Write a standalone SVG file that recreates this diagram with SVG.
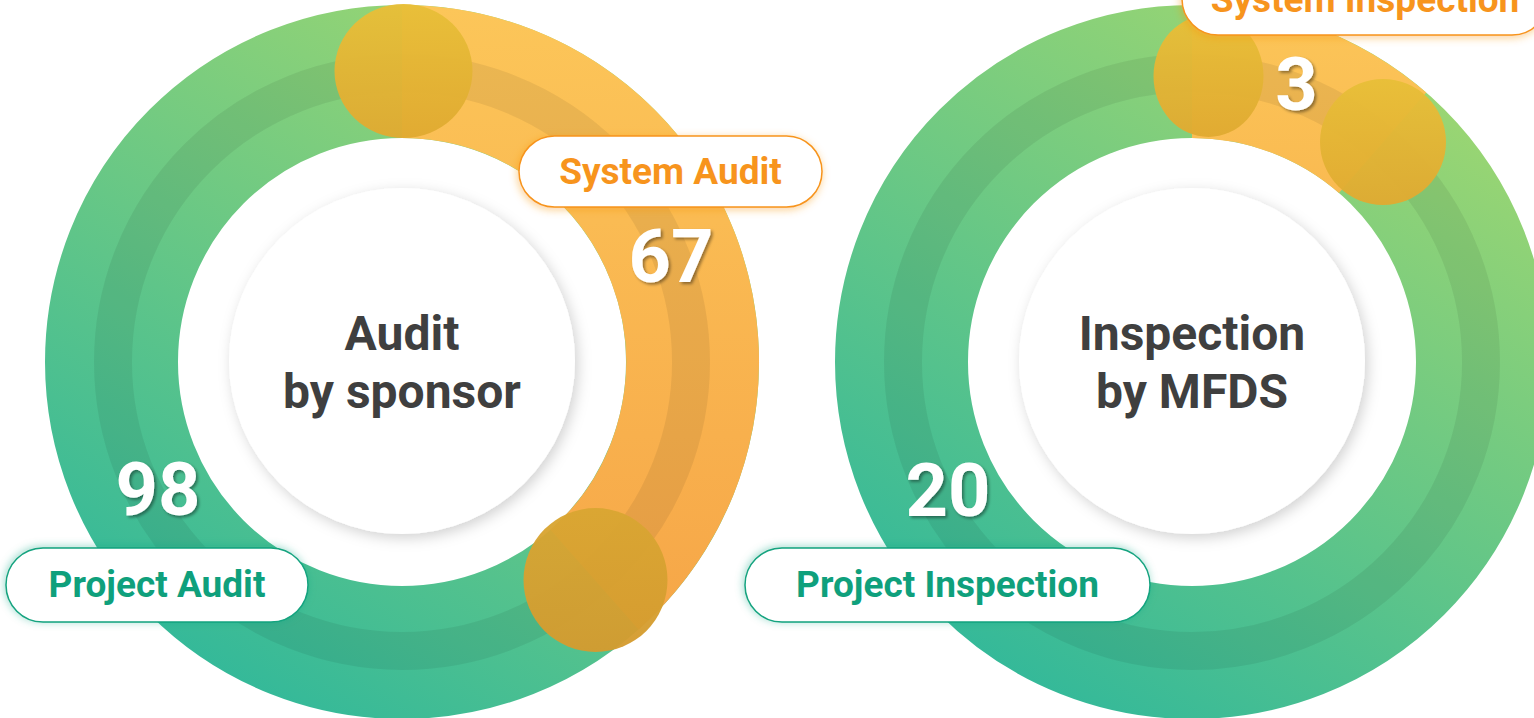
<svg xmlns="http://www.w3.org/2000/svg" width="1534" height="718" viewBox="0 0 1534 718">
<style>
.ring{fill:none;stroke-width:133}
.band{fill:none;stroke:#000;stroke-opacity:0.065;stroke-width:38}
.cap{opacity:0.96}
.center{font-family:Roboto,"Liberation Sans",sans-serif;font-weight:700;font-size:48px;fill:#3f3f3f;text-anchor:middle}
.num{font-family:Roboto,"Liberation Sans",sans-serif;font-weight:700;font-size:74px;fill:#ffffff;text-anchor:middle}
.pill-o{fill:#ffffff;stroke:#f7941d;stroke-width:1.5}
.pill-g{fill:#ffffff;stroke:#13a37f;stroke-width:1.5}
.lbl{font-family:Roboto,"Liberation Sans",sans-serif;font-weight:700;font-size:37px;text-anchor:middle}
.lbl-o{fill:#f7941d}
.lbl-g{fill:#0fa07c}
</style>
<defs>
<linearGradient id="gL" gradientUnits="userSpaceOnUse" x1="620" y1="10" x2="190" y2="715">
<stop offset="0" stop-color="#a3d86f"/><stop offset="1" stop-color="#2db79c"/>
</linearGradient>
<linearGradient id="gR" gradientUnits="userSpaceOnUse" x1="1410" y1="10" x2="980" y2="715">
<stop offset="0" stop-color="#a3d86f"/><stop offset="1" stop-color="#2db79c"/>
</linearGradient>
<linearGradient id="oL" gradientUnits="userSpaceOnUse" x1="0" y1="5" x2="0" y2="650">
<stop offset="0" stop-color="#fcc659"/><stop offset="1" stop-color="#f6a547"/>
</linearGradient>
<linearGradient id="oR" gradientUnits="userSpaceOnUse" x1="0" y1="5" x2="0" y2="240">
<stop offset="0" stop-color="#fcc659"/><stop offset="1" stop-color="#f9b74f"/>
</linearGradient>
<linearGradient id="cg" x1="0" y1="0" x2="0" y2="1">
<stop offset="0" stop-color="#e8bf38"/><stop offset="1" stop-color="#e0aa31"/>
</linearGradient>
<linearGradient id="cg2" x1="0" y1="0" x2="0" y2="1">
<stop offset="0" stop-color="#d9a632"/><stop offset="1" stop-color="#d49b2f"/>
</linearGradient>
<filter id="sh" x="-20%" y="-20%" width="140%" height="140%">
<feDropShadow dx="3" dy="4" stdDeviation="7" flood-color="#000" flood-opacity="0.18"/>
</filter>
<filter id="ns" x="-20%" y="-20%" width="140%" height="140%">
<feDropShadow dx="2" dy="2" stdDeviation="1.5" flood-color="#000" flood-opacity="0.4"/>
</filter>
<filter id="go" x="-10%" y="-30%" width="120%" height="160%">
<feDropShadow dx="-1" dy="2" stdDeviation="4" flood-color="#f7941d" flood-opacity="0.45"/>
</filter>
<filter id="gg" x="-10%" y="-30%" width="120%" height="160%">
<feDropShadow dx="-1" dy="-1" stdDeviation="4" flood-color="#13a37f" flood-opacity="0.4"/>
</filter>
</defs>

<g id="donut-audit">
<circle class="ring" cx="402" cy="362" r="290.5" stroke="url(#gL)"/>
<path class="ring" d="M402 71.5 A290.5 290.5 0 0 1 594.5 579.6" stroke="url(#oL)"/>
<circle class="band" cx="402" cy="362" r="289"/>
<ellipse class="cap" cx="403.5" cy="71" rx="69" ry="67" fill="url(#cg)"/>
<ellipse class="cap" cx="595.5" cy="580" rx="72" ry="72" fill="url(#cg2)"/>
<circle cx="402" cy="361" r="173" fill="#ffffff" filter="url(#sh)"/>
<text class="center" x="402" y="350">Audit</text>
<text class="center" x="402" y="408">by sponsor</text>
</g>

<g id="donut-inspection">
<circle class="ring" cx="1192" cy="362" r="290.5" stroke="url(#gR)"/>
<path class="ring" d="M1192 71.5 A290.5 290.5 0 0 1 1382.6 142.8" stroke="url(#oR)"/>
<circle class="band" cx="1192" cy="362" r="289"/>
<ellipse class="cap" cx="1208.5" cy="76" rx="55" ry="61" fill="url(#cg)"/>
<ellipse class="cap" cx="1383" cy="142" rx="63" ry="63" fill="url(#cg)"/>
<circle cx="1192" cy="361" r="173" fill="#ffffff" filter="url(#sh)"/>
<text class="center" x="1192" y="350">Inspection</text>
<text class="center" x="1192" y="408">by MFDS</text>
</g>

<g id="value-67"><text class="num" x="671" y="282" filter="url(#ns)">67</text></g>
<g id="value-98"><text class="num" x="158" y="515" filter="url(#ns)">98</text></g>
<g id="value-20"><text class="num" x="948" y="516" filter="url(#ns)">20</text></g>
<g id="value-3"><text class="num" x="1296.5" y="110" filter="url(#ns)">3</text></g>

<g id="label-system-audit">
<rect class="pill-o" x="519" y="136" width="303" height="71" rx="35.5" filter="url(#go)"/>
<text class="lbl lbl-o" x="670.5" y="184">System Audit</text>
</g>
<g id="label-project-audit">
<rect class="pill-g" x="6" y="548" width="302" height="74" rx="37" filter="url(#gg)"/>
<text class="lbl lbl-g" x="157" y="597">Project Audit</text>
</g>
<g id="label-project-inspection">
<rect class="pill-g" x="745" y="548" width="405" height="74" rx="37" filter="url(#gg)"/>
<text class="lbl lbl-g" x="947.5" y="597">Project Inspection</text>
</g>
<g id="label-system-inspection">
<rect class="pill-o" x="1182" y="-37" width="366" height="72" rx="36" filter="url(#go)"/>
<text class="lbl lbl-o" x="1365" y="12">System Inspection</text>
</g>

<g id="connectors"/>
</svg>
